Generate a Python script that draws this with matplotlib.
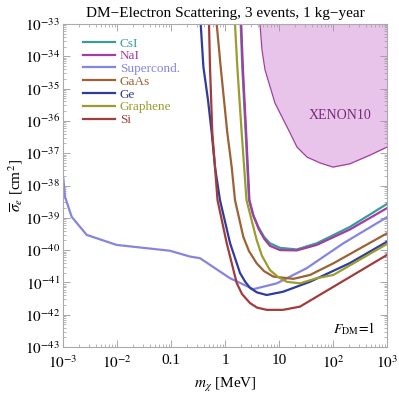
import numpy as np
import matplotlib
matplotlib.use('Agg')
import matplotlib.pyplot as plt
from matplotlib.ticker import LogLocator, FixedLocator, FixedFormatter, NullFormatter

plt.rcParams['font.family'] = ['Liberation Serif', 'DejaVu Serif']
plt.rcParams['mathtext.fontset'] = 'stix'

# curves, as log10(m / MeV) and log10(sigma / cm^2)
csi_logm = [0.291, 0.320, 0.383, 0.444, 0.519, 0.617, 0.722, 0.833, 1.019, 1.328, 1.698, 2.315, 3.0]
csi_logs = [-33, -34.33, -36.37, -38.45, -38.91, -39.28, -39.59, -39.79, -39.93, -39.98, -39.79, -39.28, -38.57]
nai_logm = [0.300, 0.330, 0.392, 0.452, 0.528, 0.625, 0.731, 0.833, 1.019, 1.328, 1.698, 2.315, 3.0]
nai_logs = [-33, -34.33, -36.37, -38.45, -38.94, -39.35, -39.66, -39.87, -40.0, -40.01, -39.84, -39.36, -38.70]
sc_logm = [-2.994, -2.963, -2.839, -2.561, -2.006, -1.019, -0.648, -0.463, 0.093, 0.524, 0.957, 1.513, 2.191, 3.0]
sc_logs = [-37.78, -38.35, -38.97, -39.53, -39.84, -40.02, -40.20, -40.25, -40.87, -41.21, -41.03, -40.56, -39.79, -38.98]
gaas_logm = [-0.154, -0.080, 0.043, 0.124, 0.185, 0.339, 0.444, 0.587, 0.722, 0.894, 1.265, 1.574, 2.006, 3.0]
gaas_logs = [-33, -34.33, -36.37, -37.43, -38.45, -39.59, -40.03, -40.41, -40.65, -40.82, -40.89, -40.77, -40.41, -39.48]
ge_logm = [-0.45, -0.40, -0.315, -0.246, -0.185, -0.093, 0.093, 0.278, 0.370, 0.463, 0.593, 0.772, 1.074, 1.574, 2.315, 3.0]
ge_logs = [-33, -34.33, -35.35, -36.37, -37.43, -38.45, -39.78, -40.71, -40.97, -41.17, -41.31, -41.39, -41.29, -40.98, -40.40, -39.74]
gr_logm = [0.185, 0.228, 0.309, 0.398, 0.587, 0.685, 0.833, 0.981, 1.143, 1.389, 1.698, 2.006, 3.0]
gr_logs = [-33, -34.33, -36.37, -38.45, -39.69, -40.18, -40.62, -40.83, -40.98, -41.03, -40.87, -40.77, -39.81]
si_logm = [-0.296, -0.278, -0.235, -0.185, -0.139, 0.031, 0.217, 0.315, 0.463, 0.593, 0.772, 1.074, 1.389, 3.0]
si_logs = [-33, -34.33, -36.37, -37.43, -38.45, -39.78, -41.02, -41.36, -41.64, -41.78, -41.85, -41.85, -41.75, -40.15]

# XENON10 excluded region boundary
x10_logm = [0.648, 0.685, 0.741, 0.926, 1.204, 1.333, 1.519, 1.759, 2.0, 2.31, 2.685, 3.0]
x10_logs = [-33, -33.80, -34.42, -35.45, -36.37, -36.81, -37.12, -37.30, -37.43, -37.33, -37.06, -36.81]

names = ['CsI', 'NaI', 'Supercond.', 'GaAs', 'Ge', 'Graphene', 'Si']
colors = ['#3a9c9a', '#a23da2', '#8585e0', '#9c6236', '#2e3c9e', '#9c9c2e', '#a13c3c']
curves = [(csi_logm, csi_logs), (nai_logm, nai_logs), (sc_logm, sc_logs),
          (gaas_logm, gaas_logs), (ge_logm, ge_logs), (gr_logm, gr_logs),
          (si_logm, si_logs)]

fig = plt.figure(figsize=(3.99, 3.93), dpi=100)
ax = fig.add_axes([63/399, 46/393, 324/399, 323/393])

# XENON10 region
xm = 10**np.array(x10_logm)
xs = 10**np.array(x10_logs)
ax.fill_between(xm, xs, 1e-33, color='#e8c3ea', lw=0)
ax.plot(xm, xs, color='#a23da2', lw=0.9)
ax.text(0.855, 0.718, 'XENON10', transform=ax.transAxes, ha='center', va='center',
        fontsize=10, color='#7a2a7a')

for name, col, (lm, ls) in zip(names, colors, curves):
    ax.plot(10**np.array(lm), 10**np.array(ls), color=col, lw=1.6, label=name)

ax.set_xscale('log')
ax.set_yscale('log')
ax.set_xlim(1e-3, 1e3)
ax.set_ylim(1e-43, 1e-33)

xt = [1e-3, 1e-2, 0.1, 1, 10, 100, 1000]
ax.xaxis.set_major_locator(FixedLocator(xt))
ax.xaxis.set_major_formatter(FixedFormatter(['$10^{-3}$', '$10^{-2}$', '0.1', '1', '10', '$10^{2}$', '$10^{3}$']))
ax.xaxis.set_minor_locator(LogLocator(base=10, subs=np.arange(2, 10), numticks=20))
ax.xaxis.set_minor_formatter(NullFormatter())
yt = [10.0**k for k in range(-43, -32)]
ax.yaxis.set_major_locator(FixedLocator(yt))
ax.yaxis.set_major_formatter(FixedFormatter(['$10^{%d}$' % k for k in range(-43, -32)]))
ax.yaxis.set_minor_locator(LogLocator(base=10, subs=np.arange(2, 10), numticks=20))
ax.yaxis.set_minor_formatter(NullFormatter())

ax.tick_params(which='both', direction='in', top=True, right=True, color='#999999')
ax.tick_params(which='major', length=5, width=0.6, labelsize=11)
ax.tick_params(axis='x', which='major', pad=5)
ax.tick_params(axis='y', which='major', pad=2)
ax.tick_params(which='minor', length=2.5, width=0.5)
for sp in ax.spines.values():
    sp.set_color('#aaaaaa')
    sp.set_linewidth(0.8)

ax.set_xlabel(r'$m_\chi$ [MeV]', fontsize=11, labelpad=4)
ax.set_ylabel(r'$\overline{\sigma}_e$ [cm$^2$]', fontsize=11, labelpad=0)
ax.set_title('DM\u2212Electron Scattering, 3 events, 1 kg\u2212year', fontsize=11, pad=5)

ax.text(0.965, 0.03, r'$F_{\rm DM}\!=\!1$', transform=ax.transAxes, ha='right', va='bottom', fontsize=10)

leg = ax.legend(loc='upper left', bbox_to_anchor=(0.045, 0.975), frameon=False, fontsize=9.5,
                handlelength=2.4, handletextpad=0.4, labelspacing=0.04, borderaxespad=0)
for txt, col in zip(leg.get_texts(), colors):
    txt.set_color(col)

plt.savefig('out.png', dpi=100)
